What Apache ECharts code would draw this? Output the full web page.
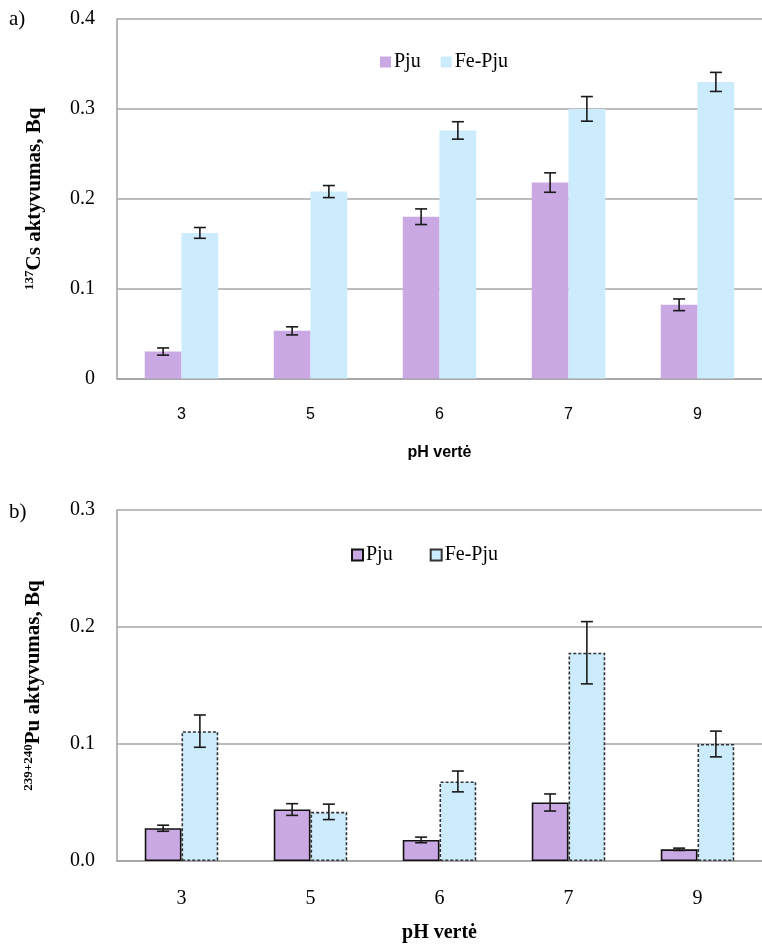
<!DOCTYPE html>
<html>
<head>
<meta charset="utf-8">
<script src="https://cdn.jsdelivr.net/npm/echarts@6/dist/echarts.min.js"></script>
<style>html,body{margin:0;padding:0;background:#fff;}#c{width:762px;height:947px;}</style>
</head>
<body>
<div id="c"></div>
<script>
const categories = ['3', '5', '6', '7', '9'];
// (a) 137Cs
const csPju = [0.030, 0.053, 0.180, 0.218, 0.082];
const csPjuErr = [0.004, 0.0045, 0.0087, 0.0108, 0.0065];
const csFe = [0.162, 0.208, 0.276, 0.300, 0.330];
const csFeErr = [0.006, 0.0067, 0.0097, 0.0137, 0.0106];
// (b) 239+240Pu
const puPju = [0.028, 0.044, 0.018, 0.050, 0.010];
const puPjuErr = [0.0026, 0.005, 0.0024, 0.0073, 0.001];
const puFe = [0.111, 0.042, 0.068, 0.178, 0.100];
const puFeErr = [0.0138, 0.0066, 0.0089, 0.0266, 0.011];
const yTicksA = [0, 0.1, 0.2, 0.3, 0.4];
const yTicksB = [0, 0.1, 0.2, 0.3];

const COL_PJU = '#C9A8E3';
const COL_FE = '#CCEBFC';
const GAP = 0.43;
const SERIF = '"Liberation Serif", "Times New Roman", serif';
const SANS = '"Liberation Sans", Arial, sans-serif';

function errSeries(vals, errs, side, xi, yi) {
  return {
    type: 'custom',
    xAxisIndex: xi, yAxisIndex: yi,
    silent: true, z: 10,
    data: vals.map((v, i) => [i, v, errs[i]]),
    encode: { x: 0, y: 1 },
    renderItem: function (params, api) {
      const i = api.value(0), v = api.value(1), e = api.value(2);
      const catW = api.size([1, 0])[0];
      const bw = catW * (1 - GAP) / 2;
      const c = api.coord([i, v]);
      const x = c[0] + side * bw / 2;
      const yTop = api.coord([i, v + e])[1];
      const yBot = api.coord([i, v - e])[1];
      const cap = 6;
      const st = { stroke: '#1a1a1a', lineWidth: 1.6 };
      return {
        type: 'group',
        children: [
          { type: 'line', shape: { x1: x, y1: yTop, x2: x, y2: yBot }, style: st },
          { type: 'line', shape: { x1: x - cap, y1: yTop, x2: x + cap, y2: yTop }, style: st },
          { type: 'line', shape: { x1: x - cap, y1: yBot, x2: x + cap, y2: yBot }, style: st }
        ]
      };
    }
  };
}

const gridLine = { show: true, lineStyle: { color: '#A6A6A6', width: 1.5 } };
const axisLn = { show: true, lineStyle: { color: '#A0A0A0', width: 1.5 } };
const titleRich = {
  s: { fontFamily: SERIF, fontSize: 13, fontWeight: 'bold', color: '#000', verticalAlign: 'top', lineHeight: 24 },
  m: { fontFamily: SERIF, fontSize: 21, fontWeight: 'bold', color: '#000', lineHeight: 24 }
};

const option = {
  animation: false,
  backgroundColor: '#fff',
  graphic: [
    { type: 'text', left: 9, top: 9, style: { text: 'a)', font: '21px ' + SERIF, fill: '#000' } },
    { type: 'text', left: 9, top: 502, style: { text: 'b)', font: '21px ' + SERIF, fill: '#000' } }
  ],
  legend: [
    {
      left: 375, top: 47, itemWidth: 11, itemHeight: 11, itemGap: 20,
      icon: 'rect',
      textStyle: { fontFamily: SERIF, fontSize: 20, color: '#000', padding: [0, 0, 0, -2] },
      data: ['Pju', 'Fe-Pju']
    },
    {
      left: 346, top: 540, itemWidth: 11, itemHeight: 11, itemGap: 32,
      icon: 'rect',
      textStyle: { fontFamily: SERIF, fontSize: 20, color: '#000', padding: [0, 0, 0, -2] },
      data: ['Pju ', 'Fe-Pju ']
    }
  ],
  grid: [
    { left: 117, top: 19, width: 650, height: 359.5 },
    { left: 117, top: 510, width: 650, height: 351 }
  ],
  xAxis: [
    {
      type: 'category', gridIndex: 0, data: categories,
      axisLine: axisLn, axisTick: { show: false },
      axisLabel: { fontFamily: SANS, fontSize: 16, color: '#000', margin: 28 },
      name: 'pH vertė', nameLocation: 'middle', nameGap: 66,
      nameTextStyle: { fontFamily: SANS, fontSize: 16, fontWeight: 'bold', color: '#000' }
    },
    {
      type: 'category', gridIndex: 1, data: categories,
      axisLine: axisLn, axisTick: { show: false },
      axisLabel: { fontFamily: SERIF, fontSize: 20, color: '#000', margin: 28 },
      name: 'pH vertė', nameLocation: 'middle', nameGap: 62,
      nameTextStyle: { fontFamily: SERIF, fontSize: 20, fontWeight: 'bold', color: '#000' }
    }
  ],
  yAxis: [
    {
      type: 'value', gridIndex: 0, min: yTicksA[0], max: yTicksA[yTicksA.length - 1], interval: 0.1,
      axisLine: axisLn, axisTick: { show: false }, splitLine: gridLine,
      axisLabel: { fontFamily: SERIF, fontSize: 20, color: '#000', margin: 22,
        formatter: v => v === 0 ? '0' : v.toFixed(1) },
      name: '{s|137}{m|Cs aktyvumas, Bq}', nameLocation: 'middle', nameGap: 70, nameRotate: 90,
      nameTextStyle: { rich: titleRich }
    },
    {
      type: 'value', gridIndex: 1, min: yTicksB[0], max: yTicksB[yTicksB.length - 1], interval: 0.1,
      axisLine: axisLn, axisTick: { show: false }, splitLine: gridLine,
      axisLabel: { fontFamily: SERIF, fontSize: 20, color: '#000', margin: 22,
        formatter: v => v.toFixed(1) },
      name: '{s|239+240}{m|Pu aktyvumas, Bq}', nameLocation: 'middle', nameGap: 71, nameRotate: 90,
      nameTextStyle: { rich: titleRich }
    }
  ],
  series: [
    { name: 'Pju', type: 'bar', xAxisIndex: 0, yAxisIndex: 0, data: csPju,
      barGap: '0%', barCategoryGap: '43%', itemStyle: { color: COL_PJU } },
    { name: 'Fe-Pju', type: 'bar', xAxisIndex: 0, yAxisIndex: 0, data: csFe,
      barGap: '0%', barCategoryGap: '43%', itemStyle: { color: COL_FE } },
    errSeries(csPju, csPjuErr, -1, 0, 0),
    errSeries(csFe, csFeErr, 1, 0, 0),
    { name: 'Pju ', type: 'bar', xAxisIndex: 1, yAxisIndex: 1, data: puPju,
      barGap: '0%', barCategoryGap: '43%',
      itemStyle: { color: COL_PJU, borderColor: '#111', borderWidth: 1.6 } },
    { name: 'Fe-Pju ', type: 'bar', xAxisIndex: 1, yAxisIndex: 1, data: puFe,
      barGap: '0%', barCategoryGap: '43%',
      itemStyle: { color: COL_FE, borderColor: '#333', borderWidth: 1.6, borderType: [3, 2] } },
    errSeries(puPju, puPjuErr, -1, 1, 1),
    errSeries(puFe, puFeErr, 1, 1, 1)
  ]
};

const chart = echarts.init(document.getElementById('c'), null, { renderer: 'canvas' });
chart.setOption(option);
</script>
</body>
</html>
